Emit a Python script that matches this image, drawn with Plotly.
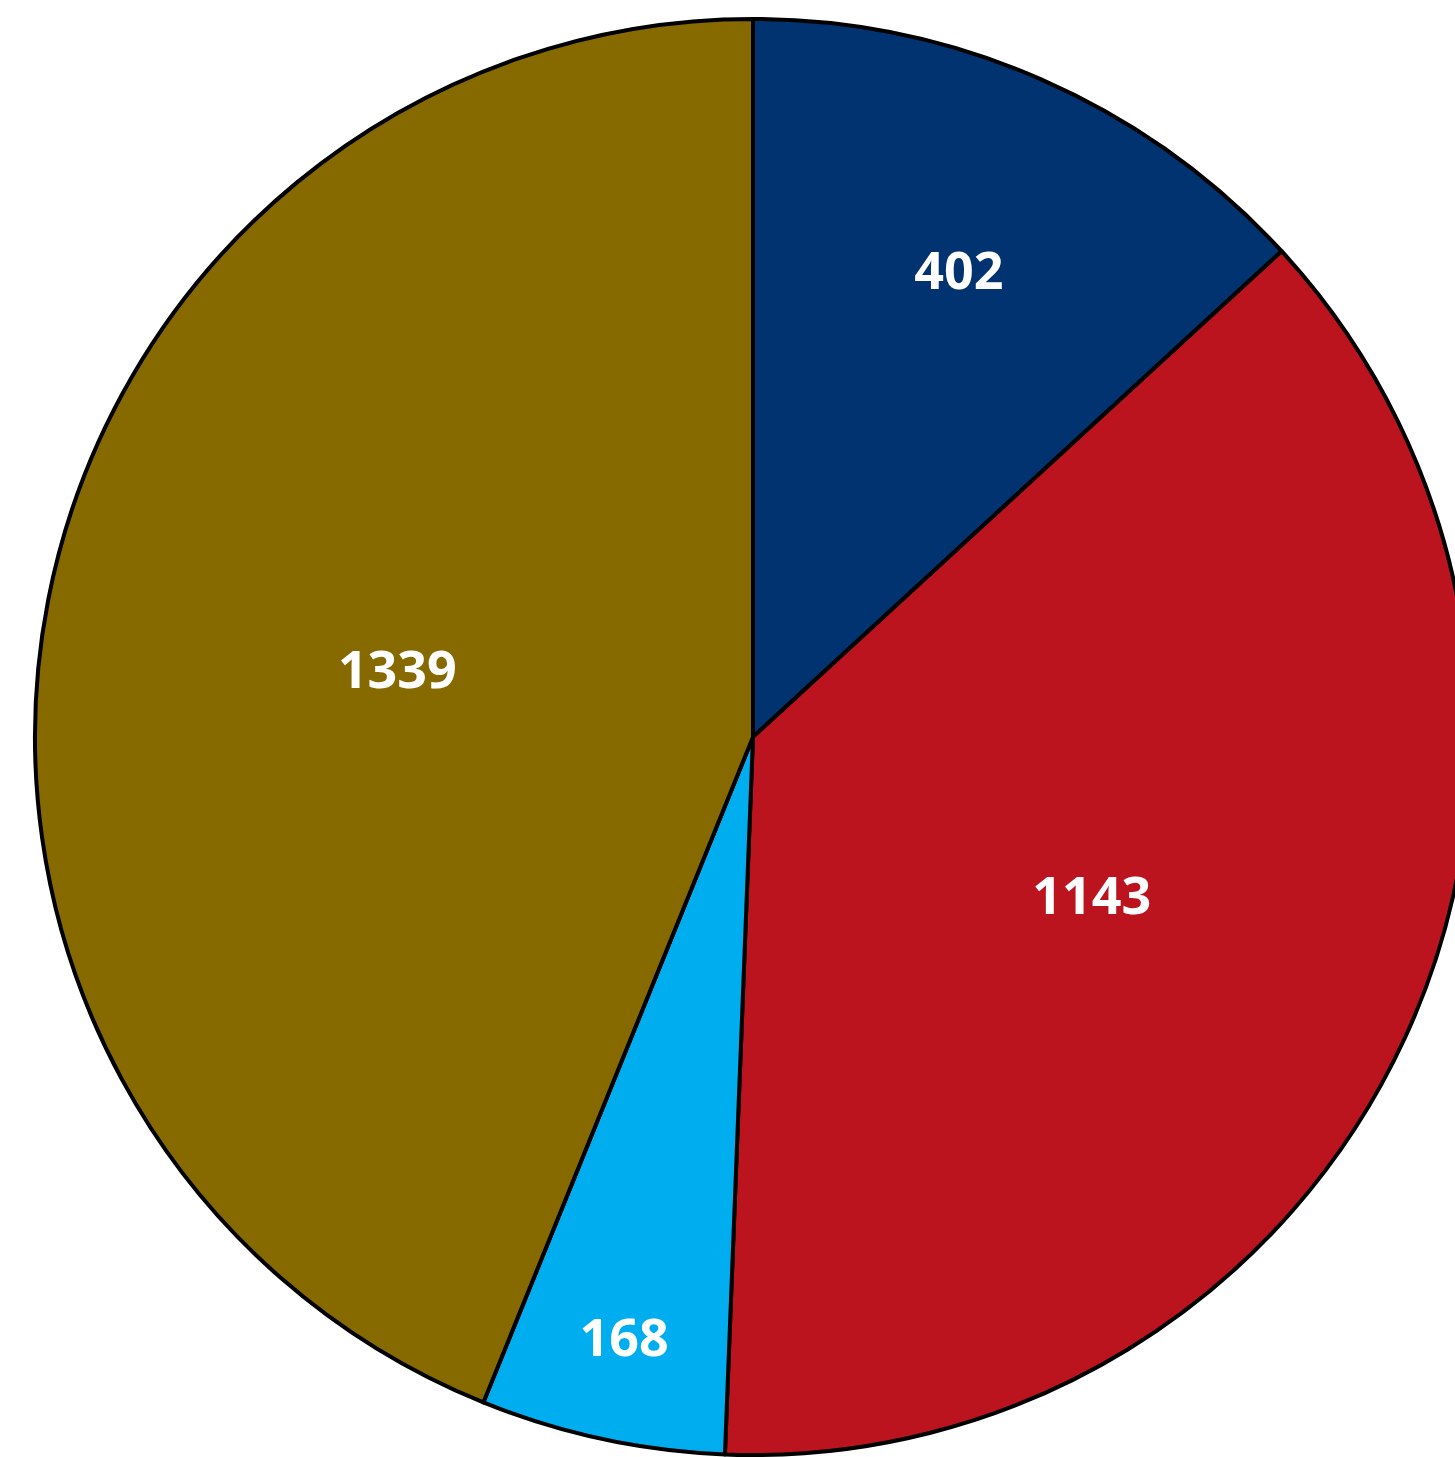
import plotly.graph_objects as go

labels = ["A", "B", "C", "D"]
values = [402, 1143, 168, 1339]
colors = ["#003370", "#BC141E", "#00AEEF", "#866A00"]

W, H = 1480, 1457
cx, cy, r = 753, 737, 718

fig = go.Figure(go.Pie(
    labels=labels,
    values=values,
    sort=False,
    direction="clockwise",
    rotation=0,
    marker=dict(colors=colors, line=dict(color="#000000", width=4)),
    textinfo="value",
    textposition="inside",
    insidetextorientation="horizontal",
    textfont=dict(family="Open Sans", size=52, color="#FFFFFF", weight="bold"),
    hoverinfo="label+value",
    showlegend=False,
    domain=dict(x=[(cx - r) / W, (cx + r) / W], y=[1 - (cy + r) / H, 1 - (cy - r) / H]),
))

fig.update_layout(
    width=W, height=H,
    margin=dict(l=0, r=0, t=0, b=0),
    paper_bgcolor="#FFFFFF",
    plot_bgcolor="#FFFFFF",
    uniformtext=dict(minsize=52, mode="show"),
)

fig.write_html(
    "out.html",
    config={"displayModeBar": False},
    post_script="document.body.style.margin='0';document.body.style.overflow='hidden';document.documentElement.style.overflow='hidden';",
)
